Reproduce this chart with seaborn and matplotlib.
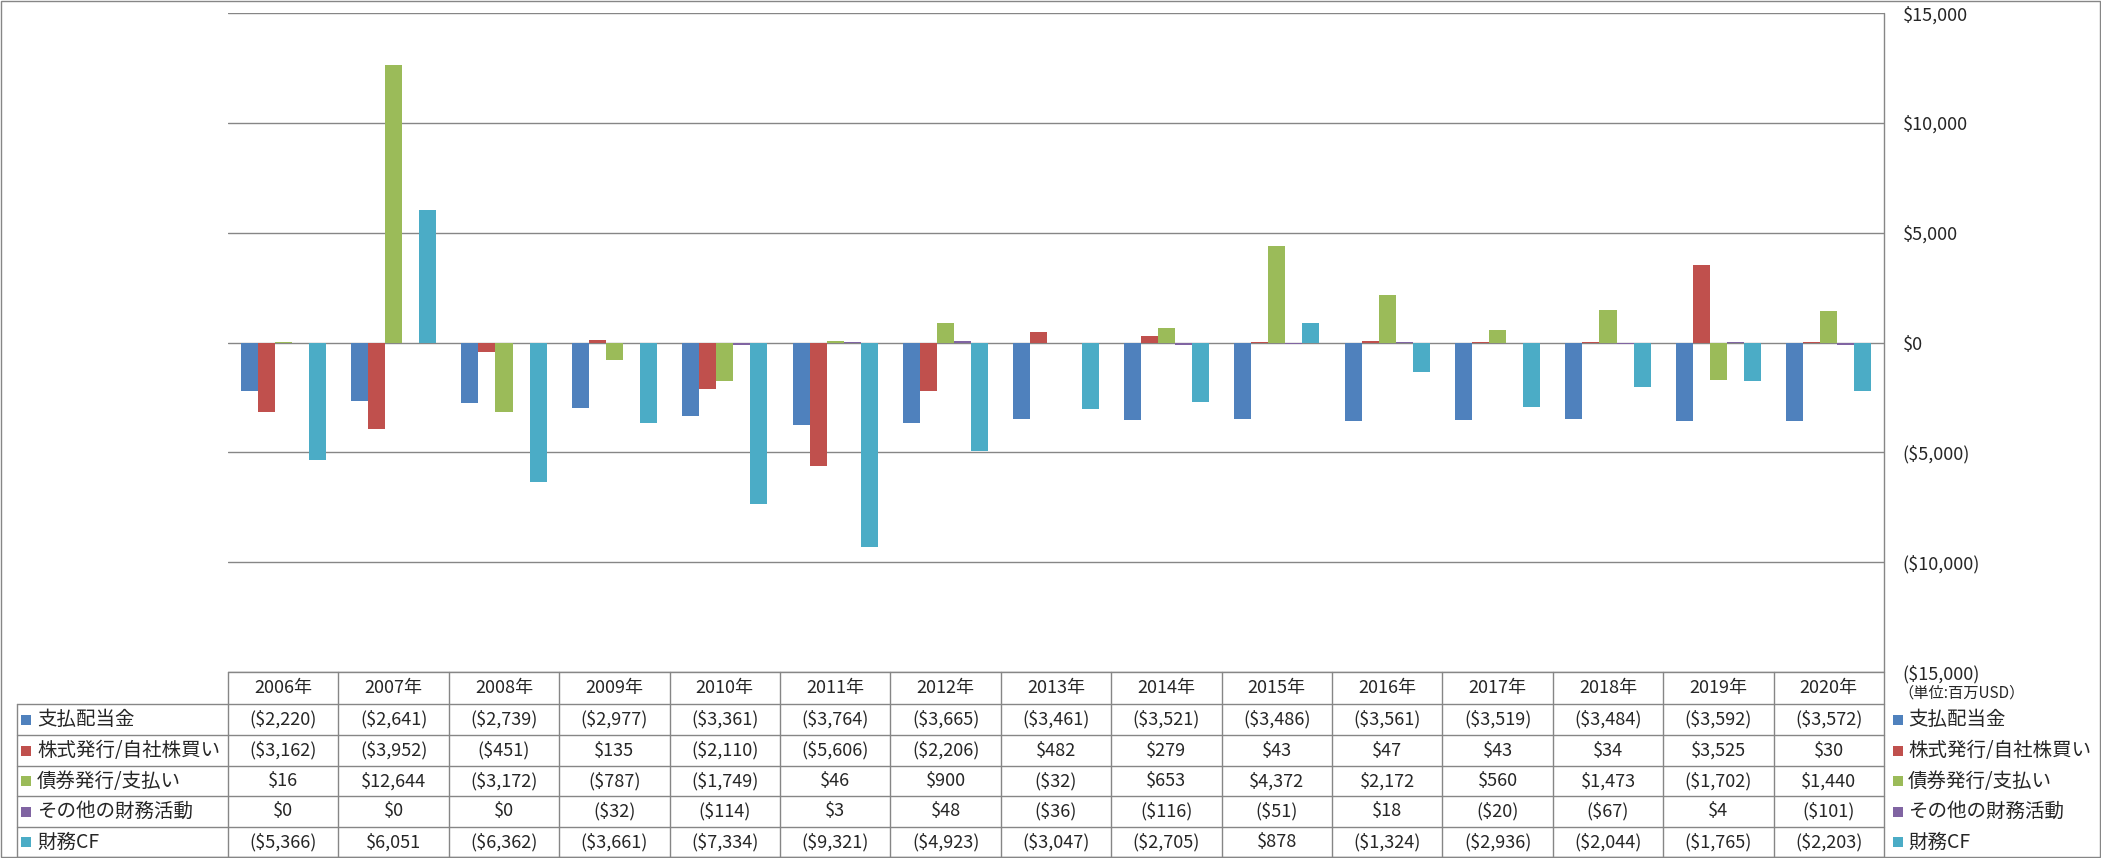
import matplotlib
matplotlib.use("Agg")
import matplotlib.pyplot as plt
import matplotlib.transforms as mtransforms
from matplotlib.lines import Line2D
from matplotlib.patches import Rectangle
import seaborn as sns
import pandas as pd

# ---------------- data ----------------
years = ["2006年", "2007年", "2008年", "2009年", "2010年", "2011年", "2012年", "2013年",
         "2014年", "2015年", "2016年", "2017年", "2018年", "2019年", "2020年"]
series_names = ["支払配当金", "株式発行/自社株買い", "債券発行/支払い", "その他の財務活動", "財務CF"]
dividends = [-2220, -2641, -2739, -2977, -3361, -3764, -3665, -3461, -3521, -3486, -3561, -3519, -3484, -3592, -3572]
stock = [-3162, -3952, -451, 135, -2110, -5606, -2206, 482, 279, 43, 47, 43, 34, 3525, 30]
bonds = [16, 12644, -3172, -787, -1749, 46, 900, -32, 653, 4372, 2172, 560, 1473, -1702, 1440]
other = [0, 0, 0, -32, -114, 3, 48, -36, -116, -51, 18, -20, -67, 4, -101]
fin_cf = [-5366, 6051, -6362, -3661, -7334, -9321, -4923, -3047, -2705, 878, -1324, -2936, -2044, -1765, -2203]
y_ticks = [-15000, -10000, -5000, 0, 5000, 10000, 15000]
unit_label = "（単位:百万USD）"
colors = ["#4F81BD", "#C0504D", "#9BBB59", "#8064A2", "#4BACC6"]

all_series = [dividends, stock, bonds, other, fin_cf]
rows = []
for name, vals in zip(series_names, all_series):
    for yr, v in zip(years, vals):
        rows.append({"year": yr, "series": name, "value": v})
df = pd.DataFrame(rows)

def money(v):
    return f"${v:,.0f}" if v >= 0 else f"(${-v:,.0f})"

# ---------------- figure ----------------
sns.set_style("white")
plt.rcParams["font.family"] = ["Noto Sans CJK JP", "DejaVu Sans"]

W, H = 2101, 858
fig = plt.figure(figsize=(W / 100, H / 100), dpi=100)
fig.patch.set_facecolor("white")

def fx(px):
    return px / W

def fy(py):
    return 1 - py / H

GRID = "#868686"
ax_left, ax_right, ax_top, ax_bottom = 228, 1884, 13, 672
ax = fig.add_axes([fx(ax_left), fy(ax_bottom), fx(ax_right - ax_left), (ax_bottom - ax_top) / H])

sns.barplot(data=df, x="year", y="value", hue="series", hue_order=series_names,
            order=years, palette=colors, width=0.77, saturation=1, errorbar=None,
            linewidth=0, legend=False, ax=ax)

ax.set_xlim(-0.5, len(years) - 0.5)
ax.set_ylim(-15000, 15000)
ax.set_yticks(y_ticks, labels=[money(v) for v in y_ticks])
for lab, v in zip(ax.get_yticklabels(), y_ticks):
    lab.set_color("#FF0000" if v < 0 else "black")
ax.yaxis.tick_right()
ax.tick_params(axis="y", length=0, pad=13.5, labelsize=13)
ax.tick_params(axis="x", length=0, labelbottom=False)
ax.set_xlabel("")
ax.set_ylabel("")
ax.grid(axis="y", color=GRID, linewidth=1.0)
ax.set_axisbelow(True)
for s in ax.spines.values():
    s.set_visible(False)
ax.set_facecolor("none")

# ---------------- data table ----------------
blend = mtransforms.blended_transform_factory(ax.transData, fig.transFigure)
row_edges = [672, 704, 735, 766, 796, 827, 857]
lw = 1.0

def fline(x0, y0, x1, y1):
    fig.add_artist(Line2D([fx(x0), fx(x1)], [fy(y0), fy(y1)], color=GRID, lw=lw,
                          transform=fig.transFigure))

# horizontal lines
fline(ax_left, 672, ax_right, 672)
for ry in row_edges[1:]:
    fline(17, ry, ax_right, ry)
# vertical lines
fline(17, 704, 17, 857)
fline(ax_right, 13, ax_right, 857)
for i in range(len(years)):
    fig.add_artist(Line2D([i - 0.5, i - 0.5], [fy(672), fy(857)], color=GRID, lw=lw,
                          transform=blend))

# header
hy = fy((row_edges[0] + row_edges[1]) / 2)
for i, yr in enumerate(years):
    fig.text(i, hy, yr, transform=blend, ha="center", va="center", fontsize=13)

# rows
for r, (name, vals, c) in enumerate(zip(series_names, all_series, colors)):
    cy_px = (row_edges[r + 1] + row_edges[r + 2]) / 2
    cy = fy(cy_px)
    for i, v in enumerate(vals):
        fig.text(i, cy, money(v), transform=blend, ha="center", va="center", fontsize=13)
    # left label
    fig.add_artist(Rectangle((fx(21), fy(cy_px + 5)), fx(10), 10 / H, facecolor=c,
                             edgecolor="none", transform=fig.transFigure))
    fig.text(fx(37), cy, name, ha="left", va="center", fontsize=14)
    # right legend
    fig.add_artist(Rectangle((fx(1893), fy(cy_px + 5)), fx(10), 10 / H, facecolor=c,
                             edgecolor="none", transform=fig.transFigure))
    fig.text(fx(1908), cy, name, ha="left", va="center", fontsize=14)

fig.text(fx(1898), fy(693), unit_label, ha="left", va="center", fontsize=11)

# outer border
fig.add_artist(Rectangle((0.0005, 0.001), 0.999, 0.998, facecolor="none", edgecolor=GRID,
                         lw=1.0, transform=fig.transFigure))

fig.savefig("out.png", dpi=100, facecolor="white")
